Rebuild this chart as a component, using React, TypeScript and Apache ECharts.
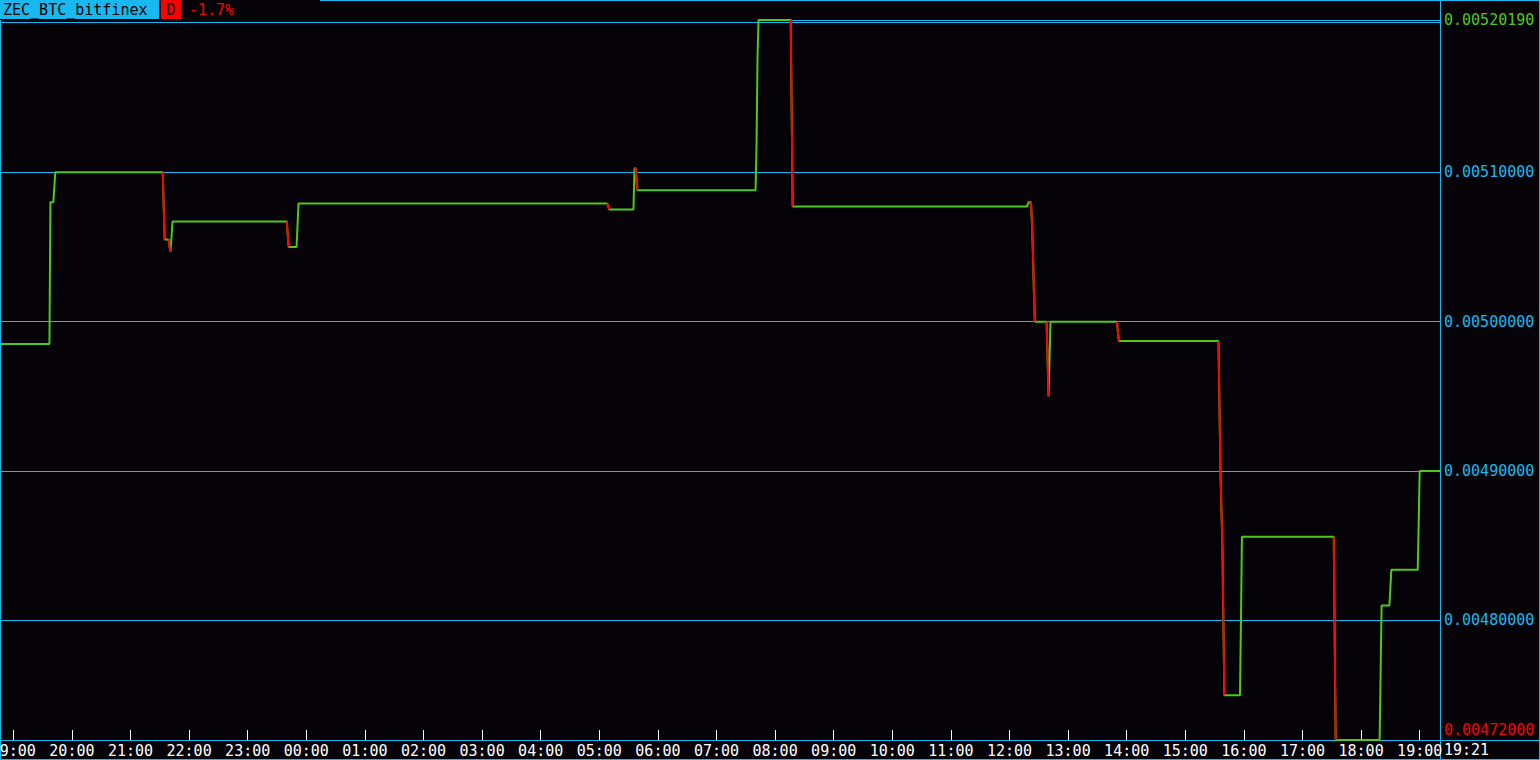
import React, { useEffect, useRef } from "react";
import * as echarts from "echarts";

// ---- texts ----
const symbolName = "ZEC_BTC_bitfinex";
const periodTag = "D";
const changeText = "-1.7%";
const currentTimeLabel = "19:21";

// ---- data (local times, day rolls over after midnight) ----
const times = [
  "18:48", "19:37", "19:38", "19:41", "19:42", "19:43",
  "21:33", "21:34", "21:35", "21:39", "21:40", "21:41", "21:42", "21:43",
  "23:40", "23:41", "23:42", "23:50", "23:51", "23:52",
  "05:08", "05:09", "05:10", "05:35", "05:36", "05:37", "05:38", "05:39",
  "07:40", "07:41", "07:42", "07:43", "08:16", "08:17", "08:18",
  "12:18", "12:19", "12:20", "12:22", "12:23", "12:24", "12:25", "12:26",
  "12:38", "12:39", "12:40", "12:41", "12:42",
  "13:50", "13:51", "13:52",
  "15:34", "15:35", "15:36", "15:37", "15:38", "15:39", "15:40",
  "15:56", "15:57", "15:58",
  "17:32", "17:33", "17:34",
  "18:19", "18:20", "18:21", "18:29", "18:30", "18:31",
  "18:58", "18:59", "19:00", "19:20",
];
const prices = [
  0.004985, 0.004985, 0.00508, 0.00508, 0.00509, 0.0051,
  0.0051, 0.005077, 0.005055, 0.005055, 0.00505, 0.005047, 0.005057, 0.005067,
  0.005067, 0.005058, 0.00505, 0.00505, 0.005064, 0.005079,
  0.005079, 0.005078, 0.005075, 0.005075, 0.005102, 0.005103, 0.005095, 0.005088,
  0.005088, 0.005119, 0.005176, 0.0052019, 0.0052019, 0.005139, 0.005077,
  0.005077, 0.005079, 0.00508, 0.00508, 0.005066, 0.005046, 0.00502, 0.005,
  0.005, 0.004975, 0.00495, 0.004975, 0.005,
  0.005, 0.004993, 0.004987,
  0.004987, 0.004943, 0.0049, 0.004875, 0.00485, 0.0048, 0.00475,
  0.00475, 0.0048, 0.004856,
  0.004856, 0.004788, 0.00472,
  0.00472, 0.004765, 0.00481, 0.00481, 0.004822, 0.004834,
  0.004834, 0.004866, 0.0049, 0.0049,
];
const gridLevels = [0.0048, 0.0049, 0.005, 0.0051];
const HIGH = 0.0052019;
const LOW = 0.00472;
const highTime = "07:43";

// ---- styles ----
const BG = "#050307";
const CYAN = "#17b9f0";
const GREEN = "#4fc81e";
const RED = "#ff0000";
const FONT = "DejaVu Sans Mono";

const viewStart = new Date(2018, 0, 1, 18, 47, 24).getTime();
const viewEnd = new Date(2018, 0, 2, 19, 20, 48).getTime();

function toTimestamps(list: string[]): number[] {
  let day = 0;
  let prev = -1;
  return list.map((t) => {
    const [h, m] = t.split(":").map(Number);
    const mins = h * 60 + m;
    if (mins < prev) day++;
    prev = mins;
    return new Date(2018, 0, 1 + day, h, m).getTime();
  });
}

export default function App() {
  const ref = useRef<HTMLDivElement>(null);

  useEffect(() => {
    document.body.style.margin = "0";
    document.body.style.background = BG;
    const chart = echarts.init(ref.current!, undefined, { renderer: "svg" });

    const ts = toTimestamps(times);
    // first point starts at the left edge of the view, last one at its right edge
    ts[0] = viewStart;
    ts[ts.length - 1] = viewEnd;
    const mainData = ts.map((t, i) => [t, prices[i]]);
    const redData: any[] = [];
    let lastRedEnd = -1;
    for (let i = 1; i < prices.length; i++) {
      if (prices[i] < prices[i - 1]) {
        if (lastRedEnd !== i - 1) {
          if (redData.length) redData.push([ts[i - 1], null]);
          redData.push([ts[i - 1], prices[i - 1]]);
        }
        redData.push([ts[i], prices[i]]);
        lastRedEnd = i;
      }
    }
    const highTs = ts[times.indexOf(highTime)];

    const labelBase = {
      show: true,
      position: "end" as const,
      distance: 4,
      fontFamily: FONT,
      fontSize: 15,
    };

    const frameLine = (x1: number, y1: number, x2: number, y2: number) => ({
      type: "line",
      z: 0,
      silent: true,
      shape: { x1, y1, x2, y2 },
      style: { stroke: CYAN, lineWidth: 1 },
    });

    chart.setOption({
      animation: false,
      backgroundColor: BG,
      grid: { left: 1, right: 100, top: 20, bottom: 20, containLabel: false, outerBoundsMode: "none" },
      xAxis: {
        type: "time",
        min: viewStart,
        max: viewEnd,
        minInterval: 3600 * 1000,
        maxInterval: 3600 * 1000,
        axisLine: { show: false },
        axisTick: { show: true, inside: true, length: 10, lineStyle: { color: "#ffffff", width: 1 } },
        axisLabel: {
          color: "#ffffff",
          fontFamily: FONT,
          fontSize: 15,
          margin: 3,
          formatter: "{HH}:{mm}",
          hideOverlap: false,
        },
        splitLine: { show: false },
      },
      yAxis: { type: "value", min: LOW, max: HIGH, show: false, position: "right" },
      series: [
        {
          type: "line",
          name: "levels",
          data: [],
          z: 1,
          silent: true,
          markLine: {
            z: 1,
            silent: true,
            symbol: ["none", "none"],
            precision: 10,
            lineStyle: { color: CYAN, type: "solid", width: 1 },
            label: { ...labelBase, color: CYAN },
            data: [
              ...gridLevels.map((v) => ({
                yAxis: v,
                label: { ...labelBase, color: CYAN, formatter: () => v.toFixed(8) },
              })),
              {
                yAxis: LOW,
                label: { ...labelBase, color: RED, offset: [0, -10], formatter: () => LOW.toFixed(8) },
              },
              [
                { coord: [highTs, HIGH] },
                {
                  coord: [viewEnd, HIGH],
                  label: { ...labelBase, color: GREEN, formatter: () => HIGH.toFixed(8) },
                },
              ],
            ],
          },
        },
        {
          type: "line",
          name: "price",
          data: mainData,
          z: 2,
          showSymbol: false,
          symbol: "none",
          clip: false,
          lineStyle: { color: GREEN, width: 2 },
          silent: true,
        },
        {
          type: "line",
          name: "down",
          data: redData,
          z: 3,
          showSymbol: false,
          symbol: "none",
          clip: false,
          connectNulls: false,
          lineStyle: { color: RED, width: 2 },
          silent: true,
        },
      ],
      graphic: [
        frameLine(0.5, 20, 0.5, 760),
        frameLine(0, 22.5, 1440, 22.5),
        frameLine(320, 0.5, 1540, 0.5),
        frameLine(1440.5, 0, 1440.5, 760),
        frameLine(1539.5, 0, 1539.5, 760),
        frameLine(0, 740.5, 1540, 740.5),
        frameLine(0, 759.5, 1540, 759.5),
        {
          type: "rect",
          z: 100,
          shape: { x: 0, y: 0, width: 159, height: 19 },
          style: { fill: CYAN },
        },
        {
          type: "text",
          z: 101,
          x: 3,
          y: 10,
          style: { text: symbolName, fill: "#000000", fontFamily: FONT, fontSize: 15, verticalAlign: "middle", align: "left" },
        },
        {
          type: "rect",
          z: 100,
          shape: { x: 161, y: 0, width: 20, height: 19 },
          style: { fill: RED },
        },
        {
          type: "text",
          z: 101,
          x: 171,
          y: 10,
          style: { text: periodTag, fill: "#000000", fontFamily: FONT, fontSize: 15, verticalAlign: "middle", align: "center" },
        },
        {
          type: "text",
          z: 101,
          x: 189,
          y: 10,
          style: { text: changeText, fill: RED, fontFamily: FONT, fontSize: 15, verticalAlign: "middle", align: "left" },
        },
        {
          type: "text",
          z: 101,
          x: 1444,
          y: 750,
          style: { text: currentTimeLabel, fill: "#ffffff", fontFamily: FONT, fontSize: 15, verticalAlign: "middle", align: "left" },
        },
      ],
    });

    return () => chart.dispose();
  }, []);

  return <div ref={ref} style={{ position: "fixed", left: 0, top: 0, width: 1540, height: 760 }} />;
}
